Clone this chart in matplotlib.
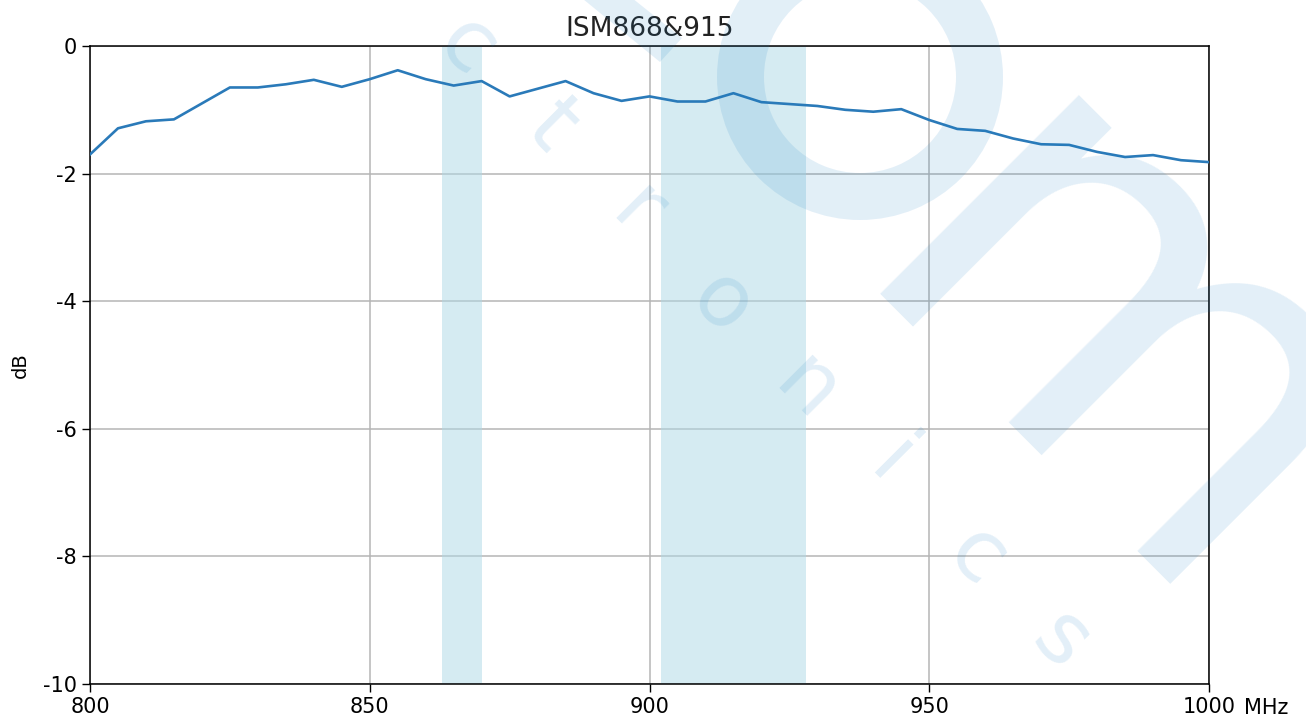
import matplotlib
matplotlib.use("Agg")
import matplotlib.pyplot as plt
from matplotlib.patches import Wedge, Polygon
import numpy as np

plt.rcParams['axes.unicode_minus'] = False

# ---- data ----
freq_mhz = [800, 805, 810, 815, 820, 825, 830, 835, 840, 845, 850, 855, 860, 865, 870,
            875, 880, 885, 890, 895, 900, 905, 910, 915, 920, 925, 930, 935, 940, 945,
            950, 955, 960, 965, 970, 975, 980, 985, 990, 995, 1000]
gain_db = [-1.70, -1.29, -1.18, -1.15, -0.90, -0.65, -0.65, -0.60, -0.53, -0.64, -0.52,
           -0.38, -0.52, -0.62, -0.55, -0.79, -0.67, -0.55, -0.74, -0.86, -0.79, -0.87,
           -0.87, -0.74, -0.88, -0.91, -0.94, -1.00, -1.03, -0.99, -1.16, -1.30, -1.33,
           -1.45, -1.54, -1.55, -1.66, -1.74, -1.71, -1.79, -1.82]
bands = [(863, 870), (902, 928)]
x_ticks = [800, 850, 900, 950, 1000]
x_tick_labels = ['800', '850', '900', '950', '1000']
x_unit = 'MHz'
y_ticks = [0, -2, -4, -6, -8, -10]
y_tick_labels = ['0', '-2', '-4', '-6', '-8', '-10']
title = 'ISM868&915'

W, H = 1306, 722
fig = plt.figure(figsize=(W / 100, H / 100), dpi=100)
ax = fig.add_axes([90 / W, 1 - 684 / H, (1209 - 90) / W, (684 - 46) / H])

for lo, hi in bands:
    ax.axvspan(lo, hi, color='#add8e6', alpha=0.5, lw=0, zorder=1)

ax.plot(freq_mhz, gain_db, color='#2a7ab9', lw=1.9, zorder=3)

ax.set_xlim(800, 1000)
ax.set_ylim(-10, 0)
ax.set_xticks(x_ticks)
ax.set_xticklabels(x_tick_labels)
ax.set_yticks(y_ticks)
ax.set_yticklabels(y_tick_labels)
ax.tick_params(labelsize=15, length=6, width=1, color='black', pad=3.5)
ax.grid(True, color='#b5b5b5', lw=1.1, zorder=0)
ax.set_axisbelow(True)
for s in ax.spines.values():
    s.set_linewidth(1.1)
ax.set_ylabel('dB', fontsize=14, labelpad=9)
ax.set_title(title, fontsize=19, pad=7, color='#222222')
ax.annotate(x_unit, xy=(1, 0), xycoords='axes fraction', xytext=(25, -9.8),
            textcoords='offset points', ha='left', va='top', fontsize=15)

# ---- watermark (light overlay) ----
wm_color = '#167dc5'
wm_alpha = 0.12
def px(x, y):
    return x / W, 1 - y / H
def inch(x, y):
    return x / 100, (H - y) / 100

ring = Wedge(inch(860, 77), 1.43, 0, 360, width=0.47, transform=fig.dpi_scale_trans,
             facecolor=wm_color, alpha=wm_alpha, lw=0, zorder=5)
fig.add_artist(ring)
band = Polygon([inch(572, -10), inch(622, -10), inch(682, 38), inch(660, 62)], closed=True,
               transform=fig.dpi_scale_trans, facecolor=wm_color, alpha=wm_alpha, lw=0, zorder=5)
fig.add_artist(band)
fig.text(*px(1110, 212), 'm', fontsize=370, rotation=-45, color=wm_color, alpha=wm_alpha,
         ha='center', va='center_baseline', zorder=5)
for k, ch in enumerate('ctronics'):
    fig.text(*px(466 + 85 * k, 34 + 85 * k), ch, fontsize=62, rotation=-45, color=wm_color,
             alpha=wm_alpha, ha='center', va='center_baseline', zorder=5)

fig.savefig('out.png', dpi=100)
